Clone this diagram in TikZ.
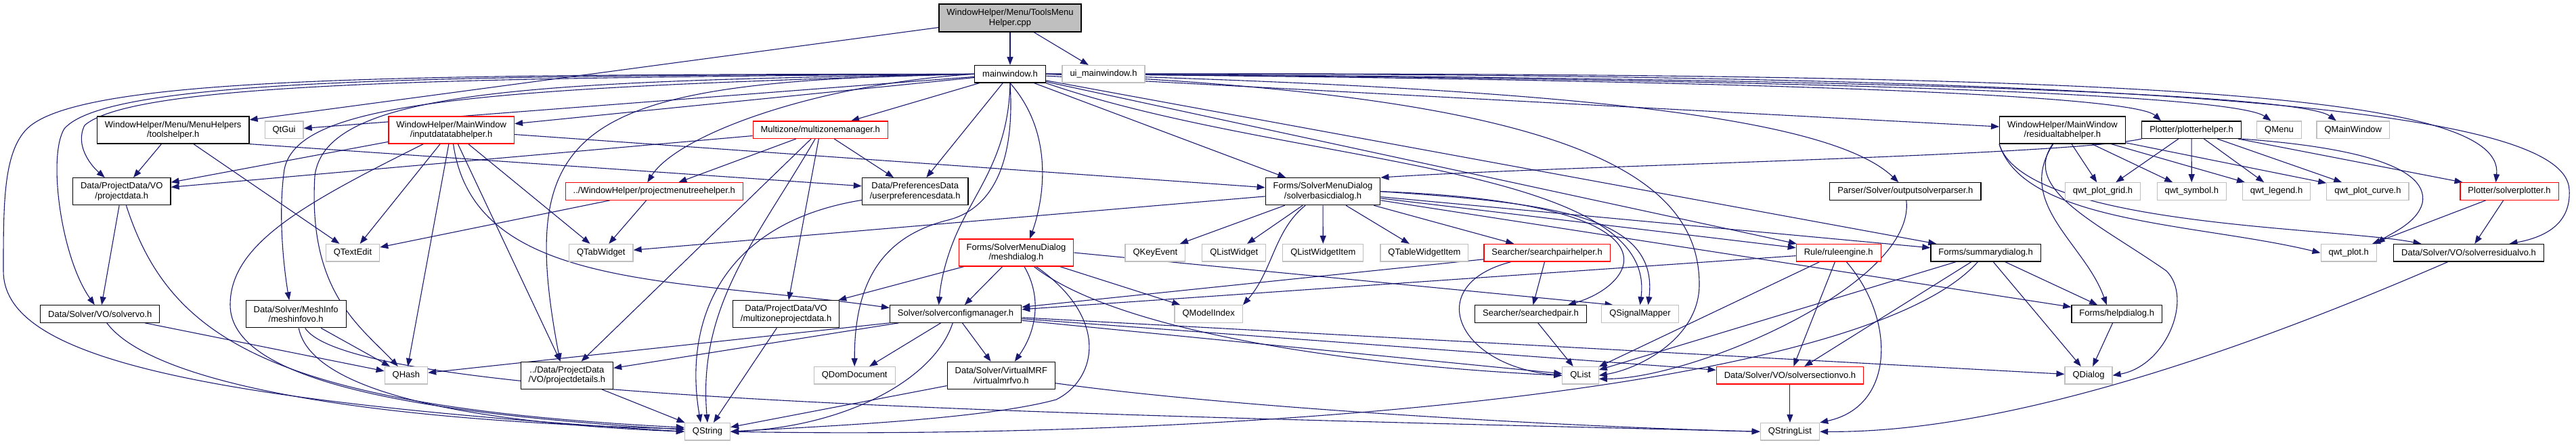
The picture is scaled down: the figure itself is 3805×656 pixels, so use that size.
\documentclass[tikz,border=0pt]{standalone}
\usepackage{fontspec}
\setmainfont{Liberation Sans}
\usepackage{xcolor}
\definecolor{dxnavy}{RGB}{25,25,112}
\definecolor{dxgray}{RGB}{191,191,191}
\definecolor{dxred}{RGB}{255,0,0}
\usetikzlibrary{arrows.meta}
\pgfdeclarelayer{bg}
\pgfsetlayers{bg,main}
\newcommand{\dxfont}{\fontsize{13}{14.5}\selectfont}

\begin{document}
\begin{tikzpicture}[x=1pt, y=-1pt,
  hfile/.style={rectangle, draw=black, line width=1.2pt, fill=white,
                inner xsep=11.5pt, inner ysep=2pt, minimum height=25.5pt,
                font=\dxfont, align=center},
  hred/.style={hfile, draw=dxred},
  hext/.style={hfile, draw=dxgray},
  hroot/.style={hfile, fill=dxgray},
  two/.style={minimum height=40pt},
  arr/.style={-{Triangle[length=12pt,width=9pt]}, draw=dxnavy, line width=1.1pt}
]
\useasboundingbox (0,0) rectangle (3805,656);

% Source file
\node[hroot, minimum height=41pt] (tmh) at (1492,26.5) {WindowHelper/Menu/ToolsMenu\\Helper.cpp};

% Row 1
\node[hfile] (mainwin) at (1492,109.3) {mainwindow.h};
\node[hext]  (uimain)  at (1630,109.3) {ui\_mainwindow.h};

% Row 2
\node[hfile, two] (toolsh)   at (255.7,192)  {WindowHelper/Menu/MenuHelpers\\/toolshelper.h};
\node[hext]       (qtgui)    at (419.6,191.7) {QtGui};
\node[hred, two]  (inputtab) at (666.7,192)  {WindowHelper/MainWindow\\/inputdatatabhelper.h};
\node[hred]       (mzmgr)    at (1211.8,191.7) {Multizone/multizonemanager.h};
\node[hfile, two] (restab)   at (3046.4,192) {WindowHelper/MainWindow\\/residualtabhelper.h};
\node[hfile]      (plothelp) at (3237,191.7) {Plotter/plotterhelper.h};
\node[hext]       (qmenu)    at (3366.5,191.7) {QMenu};
\node[hext]       (qmainwin) at (3475.8,191.7) {QMainWindow};

% Row 3
\node[hfile, two] (projdata)  at (179.8,282.7) {Data/ProjectData/VO\\/projectdata.h};
\node[hred]       (pmtree)    at (966.3,282.5) {../WindowHelper/projectmenutreehelper.h};
\node[hfile, two] (userpref)  at (1351.7,282.7) {Data/PreferencesData\\/userpreferencesdata.h};
\node[hfile, two] (basicdlg)  at (1954,282.7) {Forms/SolverMenuDialog\\/solverbasicdialog.h};
\node[hfile]      (outparser) at (2814.3,282.5) {Parser/Solver/outputsolverparser.h};
\node[hext]       (qwtgrid)   at (3106,282.5) {qwt\_plot\_grid.h};
\node[hext]       (qwtsym)    at (3237.3,282.5) {qwt\_symbol.h};
\node[hext]       (qwtleg)    at (3362.6,282.5) {qwt\_legend.h};
\node[hext]       (qwtcurve)  at (3497.4,282.5) {qwt\_plot\_curve.h};
\node[hred]       (solvplot)  at (3706.5,282.5) {Plotter/solverplotter.h};

% Row 4
\node[hext]      (qtextedit) at (521,373.2) {QTextEdit};
\node[hext]      (qtabw)     at (887.8,373.2) {QTabWidget};
\node[hred, two] (meshdlg)   at (1501,373) {Forms/SolverMenuDialog\\/meshdialog.h};
\node[hext]      (qkeyev)    at (1706.4,373.2) {QKeyEvent};
\node[hext]      (qlistw)    at (1822.7,373.2) {QListWidget};
\node[hext]      (qlistwi)   at (1954.3,373.2) {QListWidgetItem};
\node[hext]      (qtablewi)  at (2103.9,373.2) {QTableWidgetItem};
\node[hred]      (sphelper)  at (2285.1,373.2) {Searcher/searchpairhelper.h};
\node[hred]      (rule)      at (2715.7,373.3) {Rule/ruleengine.h};
\node[hfile]     (summary)   at (2933.1,373.3) {Forms/summarydialog.h};
\node[hext]      (qwtplot)   at (3469.2,373.3) {qwt\_plot.h};
\node[hfile]     (resvo)     at (3646.5,373.3) {Data/Solver/VO/solverresidualvo.h};

% Row 5
\node[hfile]      (solvervo) at (147.8,463.5) {Data/Solver/VO/solvervo.h};
\node[hfile, two] (meshinfo) at (437.2,463.8) {Data/Solver/MeshInfo\\/meshinfovo.h};
\node[hfile, two] (mzpdata)  at (1161.1,463.7) {Data/ProjectData/VO\\/multizoneprojectdata.h};
\node[hfile]      (cfgmgr)   at (1411.6,463.5) {Solver/solverconfigmanager.h};
\node[hext]       (qmodidx)  at (1785.2,463.5) {QModelIndex};
\node[hfile]      (spair)    at (2260.9,463.5) {Searcher/searchedpair.h};
\node[hext]       (qsigmap)  at (2422.5,463.5) {QSignalMapper};
\node[hfile]      (helpdlg)  at (3126.7,463.5) {Forms/helpdialog.h};

% Row 6
\node[hext]       (qhash)   at (599.9,554.3) {QHash};
\node[hfile, two] (projdet) at (837.4,554.3) {../Data/ProjectData\\/VO/projectdetails.h};
\node[hext]       (qdomdoc) at (1262.2,554.3) {QDomDocument};
\node[hfile, two] (vmrf)    at (1478.8,554.3) {Data/Solver/VirtualMRF\\/virtualmrfvo.h};
\node[hext]       (qlist)   at (2334.5,554.3) {QList};
\node[hred]       (secvo)   at (2643.9,554.3) {Data/Solver/VO/solversectionvo.h};
\node[hext]       (qdialog) at (3085,554.3) {QDialog};

% Row 7
\node[hext] (qstring)  at (1045,637.2) {QString};
\node[hext] (qstrlist) at (2643.9,637.2) {QStringList};

% Arrows
\begin{pgfonlayer}{bg}
% source file
\draw[arr] (tmh) -- (mainwin);
\draw[arr] (tmh) -- (uimain);
\draw[arr] (tmh) -- (toolsh);

% mainwindow.h
\draw[arr] (mainwin) -- (qtgui);
\draw[arr] (mainwin) -- (inputtab);
\draw[arr] (mainwin) -- (mzmgr);
\draw[arr] (mainwin) -- (userpref);
\draw[arr] (mainwin) -- (basicdlg);
\draw[arr] (mainwin) -- (rule);
\draw[arr] (mainwin) -- (summary);
\draw[arr] (mainwin) -- (restab);
\draw[arr] (mainwin.west) .. controls (600,110) and (120,112) .. (40,190)
  .. controls (5,225) and (5,300) .. (5,400) .. controls (5,520) and (250,590) .. (qstring.west);
\draw[arr] (mainwin.west) .. controls (650,112) and (160,115) .. (95,190)
  .. controls (70,230) and (90,380) .. ([xshift=-8pt]solvervo.north);
\draw[arr] (mainwin.west) .. controls (700,115) and (200,120) .. (125,185)
  .. controls (110,215) and (135,245) .. ([xshift=-25pt]projdata.north);
\draw[arr] (mainwin.west) .. controls (700,130) and (440,150) .. (420,250)
  .. controls (410,320) and (420,400) .. ([xshift=-10pt]meshinfo.north);
\draw[arr] (mainwin.west) .. controls (800,120) and (480,130) .. (465,260)
  .. controls (455,430) and (530,480) .. ([xshift=-12pt]qhash.north);
\draw[arr] (mainwin.west) .. controls (1200,125) and (1000,200) .. ([xshift=-10pt]pmtree.north);
\draw[arr] (mainwin.west) .. controls (850,120) and (760,180) .. ([xshift=-10pt]projdet.north);
\draw[arr] (mainwin.south) .. controls (1490,220) and (1450,270) .. (1420,330)
  .. controls (1400,370) and (1390,410) .. ([xshift=-25pt]cfgmgr.north);
\draw[arr] (mainwin.south) .. controls (1500,250) and (1460,310) .. (1400,325)
  .. controls (1300,350) and (1262,420) .. (qdomdoc.north);
\draw[arr] (mainwin.south) .. controls (1560,200) and (1540,300) .. ([xshift=20pt]meshdlg.north);
\draw[arr] (mainwin.south east) .. controls (1900,245) and (2450,240) .. (qsigmap.north);
\draw[arr] (mainwin.east) .. controls (2300,140) and (2510,250) .. (2510,420)
  .. controls (2510,500) and (2420,545) .. (qlist.east);
\draw[arr] (mainwin.east) .. controls (2300,130) and (2700,170) .. ([xshift=-10pt]outparser.north);
\draw[arr] (mainwin.east) .. controls (2600,118) and (3150,140) .. ([xshift=-45pt]plothelp.north);
\draw[arr] (mainwin.east) .. controls (2700,116) and (3300,140) .. ([xshift=-12pt]qmenu.north);
\draw[arr] (mainwin.east) .. controls (2800,114) and (3400,140) .. ([xshift=-25pt]qmainwin.north);
\draw[arr] (mainwin.east) .. controls (3150,105) and (3700,135) .. ([xshift=-20pt]solvplot.north);
\draw[arr] (mainwin.east) .. controls (3300,105) and (3790,170) .. (3795,280)
  .. controls (3798,330) and (3760,350) .. ([xshift=60pt]resvo.north);

% toolshelper.h
\draw[arr] (toolsh) -- (projdata);
\draw[arr] (toolsh.south east) -- ([yshift=8pt]userpref.west);
\draw[arr] (toolsh) -- (qtextedit);

% inputdatatabhelper.h
\draw[arr] (inputtab) -- (projdata);
\draw[arr] (inputtab) -- (qtextedit);
\draw[arr] (inputtab) -- (qtabw);
\draw[arr] (inputtab) -- (qhash);
\draw[arr] (inputtab) -- (projdet);
\draw[arr] (inputtab) -- (basicdlg);
\draw[arr] (inputtab) .. controls (700,430) and (1000,410) .. ([yshift=9pt]cfgmgr.west);
\draw[arr] (inputtab) .. controls (450,300) and (340,360) .. (340,450)
  .. controls (340,560) and (600,610) .. ([yshift=3pt]qstring.west);

% multizonemanager.h
\draw[arr] (mzmgr) -- (projdata);
\draw[arr] (mzmgr) -- (pmtree);
\draw[arr] (mzmgr) -- (userpref);
\draw[arr] (mzmgr) -- (mzpdata);
\draw[arr] (mzmgr) -- (projdet);
\draw[arr] (mzmgr) .. controls (1120,350) and (1030,450) .. (qstring.north);

% projectmenutreehelper.h
\draw[arr] (pmtree) -- (qtextedit);
\draw[arr] (pmtree) -- (qtabw);

% project data, solver and mesh info
\draw[arr] (projdata) -- (solvervo);
\draw[arr] (projdata) .. controls (250,500) and (400,600) .. ([yshift=6pt]qstring.west);
\draw[arr] (solvervo) -- (qhash);
\draw[arr] (solvervo) .. controls (220,560) and (500,620) .. ([yshift=4pt]qstring.west);
\draw[arr] (meshinfo) -- (qhash);
\draw[arr] (meshinfo) .. controls (460,580) and (700,625) .. (qstring.west);
\draw[arr] (meshinfo) .. controls (520,590) and (1500,610) .. (qstrlist.west);
\draw[arr] (userpref) .. controls (1060,330) and (1010,480) .. ([xshift=-10pt]qstring.north);

% solverbasicdialog.h
\draw[arr] (basicdlg) -- (qtabw);
\draw[arr] (basicdlg) -- (qkeyev);
\draw[arr] (basicdlg) -- (qlistw);
\draw[arr] (basicdlg) -- (qlistwi);
\draw[arr] (basicdlg) -- (qtablewi);
\draw[arr] (basicdlg) -- (sphelper);
\draw[arr] (basicdlg) -- (rule);
\draw[arr] (basicdlg) -- (summary);
\draw[arr] (basicdlg) -- (helpdlg);
\draw[arr] (basicdlg) .. controls (1882,340) and (1880,400) .. (qmodidx.north east);
\draw[arr] (basicdlg.east) .. controls (2300,300) and (2450,320) .. ([xshift=12pt]qsigmap.north);
\draw[arr] (basicdlg.east) .. controls (2500,300) and (2420,420) .. ([xshift=55pt]spair.north);

% meshdialog.h
\draw[arr] (meshdlg) -- (cfgmgr);
\draw[arr] (meshdlg) -- (qmodidx);
\draw[arr] (meshdlg) -- (mzpdata);
\draw[arr] (meshdlg.east) -- ([xshift=-40pt]qsigmap.north);
\draw[arr] (meshdlg) .. controls (1540,440) and (1530,490) .. ([xshift=20pt]vmrf.north);
\draw[arr] (meshdlg) .. controls (1650,490) and (2000,540) .. (qlist.west);
\draw[arr] (meshdlg) .. controls (1640,470) and (1620,560) .. (1560,590)
  .. controls (1450,620) and (1200,630) .. (qstring.east);

% solverconfigmanager.h
\draw[arr] (cfgmgr.south west) -- ([yshift=4pt]qhash.east);
\draw[arr] (cfgmgr) -- (projdet);
\draw[arr] (cfgmgr) -- (qdomdoc);
\draw[arr] (cfgmgr) -- (vmrf);
\draw[arr] (cfgmgr) -- (qlist);
\draw[arr] (cfgmgr) -- (secvo);
\draw[arr] (cfgmgr) -- (qdialog);
\draw[arr] (cfgmgr) .. controls (1380,560) and (1250,630) .. (qstring.east);

% searcher
\draw[arr] (sphelper) -- (spair);
\draw[arr] (sphelper) -- (cfgmgr);
\draw[arr] (sphelper) .. controls (2100,420) and (2150,540) .. (qlist.west);
\draw[arr] (spair) -- (qlist);

% ruleengine.h
\draw[arr] (rule) -- (cfgmgr);
\draw[arr] (rule) -- (secvo);
\draw[arr] (rule) -- (qlist);
\draw[arr] (rule) .. controls (2800,470) and (2800,600) .. (qstrlist.north east);

% summarydialog.h
\draw[arr] (summary) -- (helpdlg);
\draw[arr] (summary) -- (qdialog);
\draw[arr] (summary) -- (secvo);
\draw[arr] (summary) -- (qlist);
\draw[arr] (summary) .. controls (2750,580) and (1800,650) .. (qstring.east);
\draw[arr] (helpdlg) -- (qdialog);

% value objects
\draw[arr] (secvo) -- (qstrlist);
\draw[arr] (vmrf) -- (qstring);
\draw[arr] (vmrf) .. controls (1800,600) and (2300,630) .. (qstrlist.west);
\draw[arr] (mzpdata) -- (qstring);
\draw[arr] (projdet) -- (qstring);
\draw[arr] (resvo) .. controls (3400,480) and (3000,640) .. (qstrlist.east);

% parser, residual tab and plotter
\draw[arr] (outparser) .. controls (2830,420) and (2500,560) .. ([yshift=-5pt]qlist.east);
\draw[arr] (restab) -- (qwtgrid);
\draw[arr] (restab) -- (qwtsym);
\draw[arr] (restab) -- (qwtleg);
\draw[arr] (restab) -- (qwtcurve);
\draw[arr] (restab.south west) .. controls (2990,330) and (3250,330) .. (qwtplot.west);
\draw[arr] (restab.south west) .. controls (2990,335) and (3450,335) .. ([xshift=-70pt]resvo.north);
\draw[arr] (restab) .. controls (2975,300) and (3080,360) .. ([xshift=-15pt]helpdlg.north);
\draw[arr] (restab) .. controls (2985,280) and (3100,330) .. (3200,400)
  .. controls (3240,440) and (3200,540) .. (qdialog.east);
\draw[arr] (plothelp.south west) .. controls (3050,230) and (2300,245) .. (basicdlg.north east);
\draw[arr] (plothelp) -- (qwtgrid);
\draw[arr] (plothelp) -- (qwtsym);
\draw[arr] (plothelp) -- (qwtleg);
\draw[arr] (plothelp) -- (qwtcurve);
\draw[arr] (plothelp) -- (solvplot);
\draw[arr] (plothelp.south east) .. controls (3450,215) and (3590,240) .. (3578,300)
  .. controls (3570,330) and (3530,345) .. (qwtplot.north east);
\draw[arr] (solvplot) -- (qwtplot);
\draw[arr] (solvplot) -- (resvo);
\end{pgfonlayer}
\end{tikzpicture}
\end{document}
